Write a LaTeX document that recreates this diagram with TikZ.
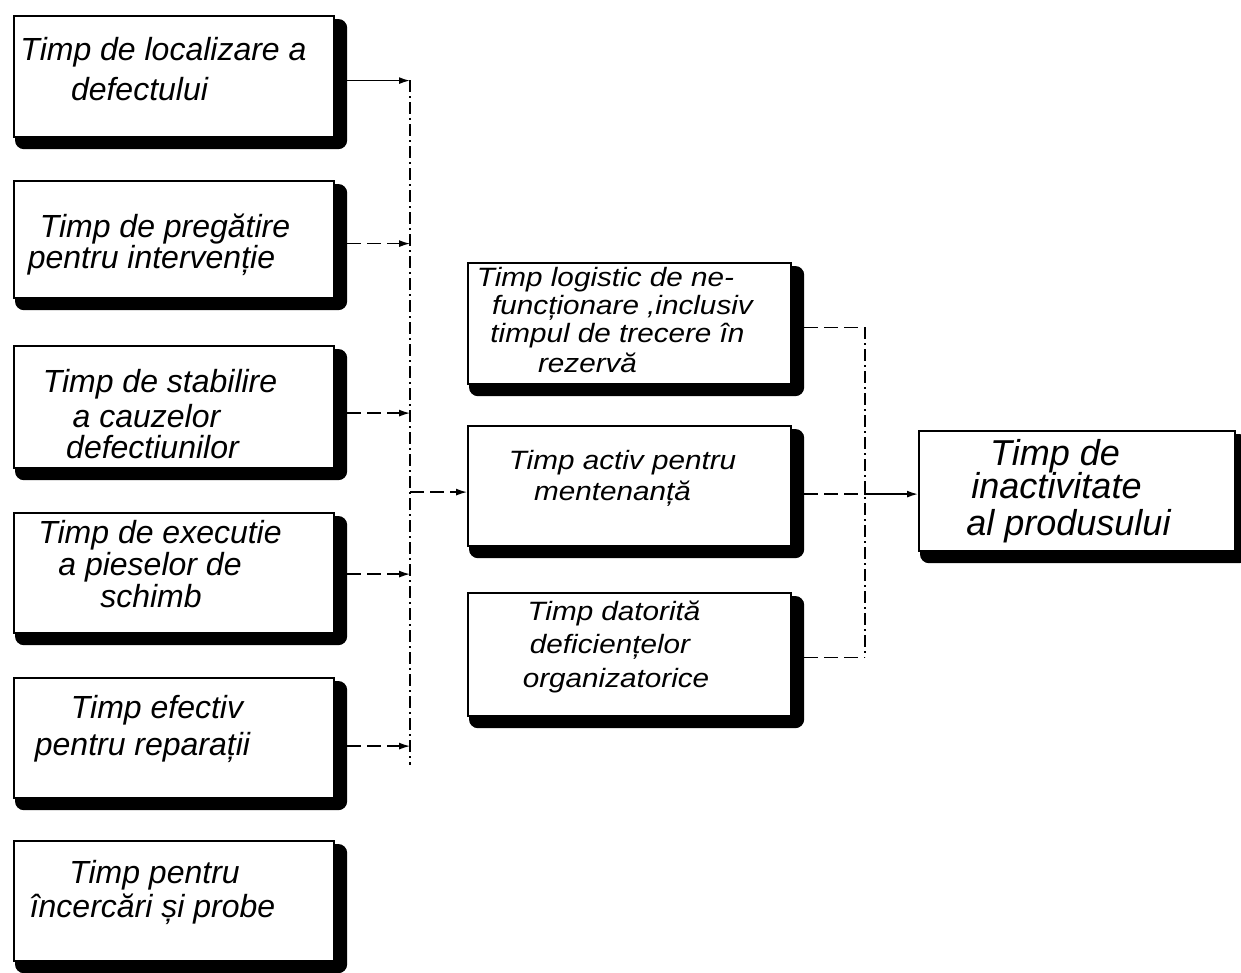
\documentclass[tikz,border=0pt]{standalone}
\usepackage{fontspec}
\setmainfont{Liberation Sans}
\usetikzlibrary{arrows.meta,backgrounds,calc}
\begin{document}
\begin{tikzpicture}[x=1pt,y=-1pt,
  box/.style={draw=black, line width=2.2pt, fill=white, rectangle, inner sep=0pt, anchor=north west},
  shade/.style={fill=black, rounded corners=9pt},
  txt/.style={anchor=base, inner sep=0pt, font=\fontsize{32}{32}\selectfont\itshape},
  txtm/.style={anchor=base, inner sep=0pt, font=\fontsize{26.5}{26.5}\selectfont\itshape\addfontfeatures{FakeStretch=1.12}},
  txtr/.style={anchor=base, inner sep=0pt, font=\fontsize{36}{36}\selectfont\itshape},
  bus/.style={line width=1.2pt, dash pattern=on 12pt off 4pt on 2pt off 4pt},
  feed/.style={line width=1.3pt, dash pattern=on 14pt off 6pt},
  tip/.style={-{Latex[length=11pt,width=7pt]}},
  solidlink/.style={line width=1.6pt}
]
\useasboundingbox (0,0) rectangle (1241,972);
\clip (0,0) rectangle (1241,972);

% ---- left column: components of the active maintenance time
\node[box, minimum width=320pt, minimum height=121pt] (b1) at (13,15) {};
\node[box, minimum width=320pt, minimum height=117pt] (b2) at (13,180) {};
\node[box, minimum width=320pt, minimum height=122pt] (b3) at (13,345) {};
\node[box, minimum width=320pt, minimum height=120pt] (b4) at (13,512) {};
\node[box, minimum width=320pt, minimum height=120pt] (b5) at (13,677) {};
\node[box, minimum width=320pt, minimum height=120pt] (b6) at (13,840) {};

% ---- middle column
\node[box, minimum width=323pt, minimum height=121pt] (m1) at (467,262) {};
\node[box, minimum width=323pt, minimum height=120pt] (m2) at (467,425) {};
\node[box, minimum width=323pt, minimum height=123pt] (m3) at (467,592) {};

% ---- result
\node[box, minimum width=316pt, minimum height=120pt] (r) at (918,430) {};

% ---- heavy shadows along right and bottom edges
\begin{scope}[on background layer]
  \foreach \b in {b1,b2,b3,b4,b5,b6,m1,m2,m3,r}
    \fill[shade] ([shift={(2,4)}]\b.north west) rectangle ([shift={(12,11)}]\b.south east);
\end{scope}

% ---- labels
\node[txt] (t1a) at (163.5,60) {Timp de localizare a};
\node[txt] (t1b) at (139.5,100) {defectului};
\node[txt] (t2a) at (165,237) {Timp de pregătire};
\node[txt] (t2b) at (151.5,268) {pentru intervenție};
\node[txt] (t3a) at (160,392) {Timp de stabilire};
\node[txt] (t3b) at (146.5,427) {a cauzelor};
\node[txt] (t3c) at (152.5,458) {defectiunilor};
\node[txt] (t4a) at (160,543) {Timp de executie};
\node[txt] (t4b) at (150,575) {a pieselor de};
\node[txt] (t4c) at (151,607) {schimb};
\node[txt] (t5a) at (157,718) {Timp efectiv};
\node[txt] (t5b) at (142.5,755) {pentru reparații};
\node[txt] (t6a) at (154.5,883) {Timp pentru};
\node[txt] (t6b) at (152.5,917) {încercări și probe};

\node[txtm] (u1a) at (605.5,286) {Timp logistic de ne-};
\node[txtm] (u1b) at (622.5,314) {funcționare ,inclusiv};
\node[txtm] (u1c) at (617.5,342) {timpul de trecere în};
\node[txtm] (u1d) at (587.5,372) {rezervă};
\node[txtm] (u2a) at (622.5,469) {Timp activ pentru};
\node[txtm] (u2b) at (612.5,500) {mentenanță};
\node[txtm] (u3a) at (614,620) {Timp datorită};
\node[txtm] (u3b) at (610,653) {deficiențelor};
\node[txtm] (u3c) at (616,687) {organizatorice};

\node[txtr] (v1) at (1055,465) {Timp de};
\node[txtr] (v2) at (1056.5,498) {inactivitate};
\node[txtr] (v3) at (1068.5,535) {al produsului};

% ---- left collector bus
\coordinate (lbusTop) at (410,80);
\coordinate (lbusBot) at (410,765);
\draw[bus] (lbusTop) -- (lbusBot);
\draw[solidlink, tip] ([shift={(12,4)}]b1.east) -- ([shift={(0,4)}]b1.east -| lbusTop);
\draw[feed, tip] ([shift={(12,4)}]b2.east) -- ([shift={(0,4)}]b2.east -| lbusTop);
\draw[feed, tip] ([shift={(12,6)}]b3.east) -- ([shift={(0,6)}]b3.east -| lbusTop);
\draw[feed, tip] ([shift={(12,1)}]b4.east) -- ([shift={(0,1)}]b4.east -| lbusTop);
\draw[feed, tip] ([shift={(12,8)}]b5.east) -- ([shift={(0,8)}]b5.east -| lbusTop);
\draw[feed, tip] ([shift={(0,6)}]m2.west -| lbusTop) -- ([shift={(0,6)}]m2.west);

% ---- right collector bus
\coordinate (rbusTop) at (865,327);
\coordinate (rbusBot) at (865,657);
\draw[bus] (rbusTop) -- (rbusBot);
\draw[feed] ([shift={(12,4)}]m1.east) -- ([shift={(0,4)}]m1.east -| rbusTop);
\draw[feed] ([shift={(12,8)}]m2.east) -- ([shift={(0,8)}]m2.east -| rbusTop);
\draw[feed] ([shift={(12,3)}]m3.east) -- ([shift={(0,3)}]m3.east -| rbusTop);
\draw[solidlink, tip] ([shift={(0,8)}]m2.east -| rbusTop) -- ([shift={(0,3)}]r.west);
\end{tikzpicture}
\end{document}
